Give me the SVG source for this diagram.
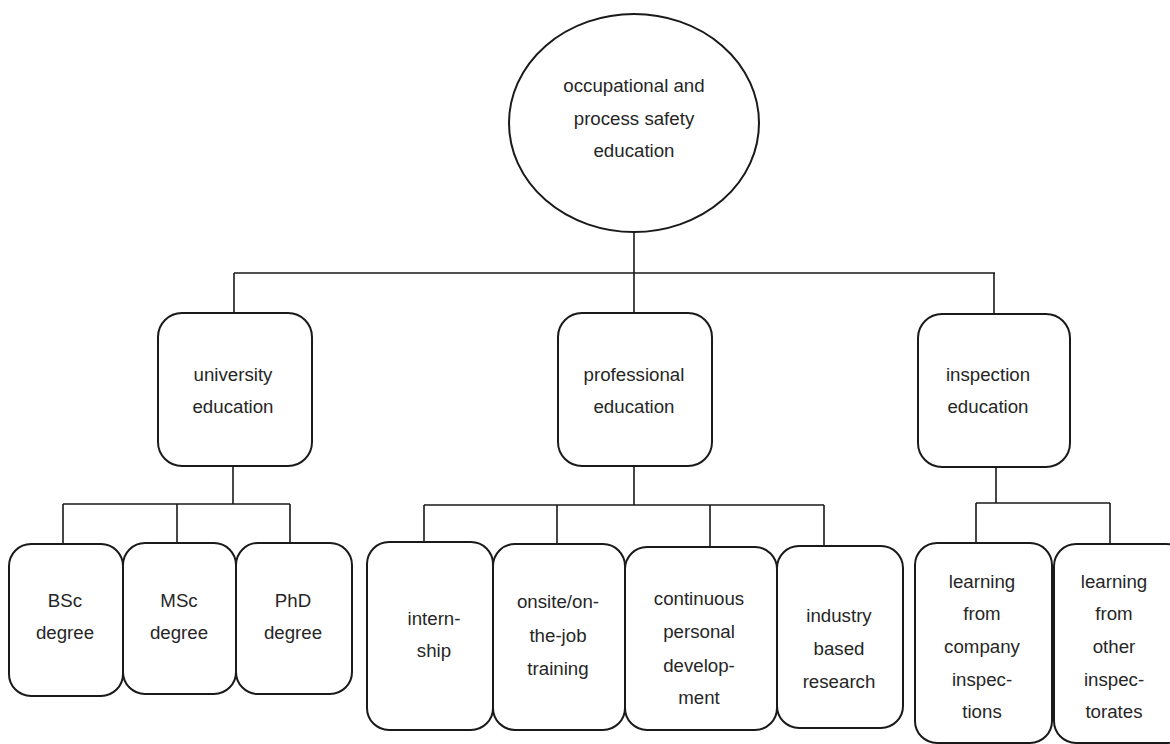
<svg xmlns="http://www.w3.org/2000/svg" width="1170" height="744" viewBox="0 0 1170 744">
<style>
.n{fill:#fff;stroke:#1a1a1a;stroke-width:2}
.c{fill:none;stroke:#1a1a1a;stroke-width:1.6}
text{font-family:"Liberation Sans",Arial,sans-serif;font-size:18.7px;fill:#262626;text-anchor:middle}
</style>
<rect width="1170" height="744" fill="#fff"/>
<g id="connectors">
<path class="c" d="M634 232V273M234 273H995M234 273V313M634 273V313M994 273V314"/>
<path class="c" d="M233 466V504M63 504H290M63 504V544M177 504V543M290 504V545"/>
<path class="c" d="M634 465V505M424 505H824M424 505V542M557 505V544M710 505V547M824 505V546"/>
<path class="c" d="M996 467V503M976 503H1110M976 503V543M1110 503V544"/>
</g>
<g id="root"><ellipse class="n" cx="634" cy="123" rx="125" ry="109"/>
<text x="634" y="92">occupational and</text><text x="634" y="125">process safety</text><text x="634" y="157">education</text></g>
<g id="university"><rect class="n" x="158" y="313" width="154" height="153" rx="24"/>
<text x="233" y="381">university</text><text x="233" y="413">education</text></g>
<g id="professional"><rect class="n" x="558" y="313" width="154" height="153" rx="24"/>
<text x="634" y="381">professional</text><text x="634" y="413">education</text></g>
<g id="inspection"><rect class="n" x="918" y="314" width="152" height="153" rx="24"/>
<text x="988" y="381">inspection</text><text x="988" y="413">education</text></g>
<g id="bsc"><rect class="n" x="9" y="544" width="114" height="152" rx="22"/>
<text x="65" y="607">BSc</text><text x="65" y="639">degree</text></g>
<g id="msc"><rect class="n" x="123" y="543" width="113" height="151" rx="22"/>
<text x="179" y="607">MSc</text><text x="179" y="639">degree</text></g>
<g id="phd"><rect class="n" x="236" y="543" width="116" height="151" rx="22"/>
<text x="293" y="607">PhD</text><text x="293" y="639">degree</text></g>
<g id="internship"><rect class="n" x="367" y="542" width="126" height="188" rx="22"/>
<text x="434" y="625">intern-</text><text x="434" y="657">ship</text></g>
<g id="onsite"><rect class="n" x="493" y="544" width="132" height="186" rx="22"/>
<text x="558" y="608">onsite/on-</text><text x="558" y="642">the-job</text><text x="558" y="675">training</text></g>
<g id="cpd"><rect class="n" x="625" y="547" width="152" height="183" rx="22"/>
<text x="699" y="605">continuous</text><text x="699" y="638">personal</text><text x="699" y="672">develop-</text><text x="699" y="704">ment</text></g>
<g id="industry"><rect class="n" x="777" y="546" width="126" height="182" rx="22"/>
<text x="839" y="622">industry</text><text x="839" y="655">based</text><text x="839" y="688">research</text></g>
<g id="company"><rect class="n" x="915" y="543" width="137" height="200" rx="22"/>
<text x="982" y="588">learning</text><text x="982" y="620">from</text><text x="982" y="653">company</text><text x="982" y="686">inspec-</text><text x="982" y="718">tions</text></g>
<g id="other"><rect class="n" x="1054" y="544" width="134" height="199" rx="22"/>
<text x="1114" y="588">learning</text><text x="1114" y="620">from</text><text x="1114" y="653">other</text><text x="1114" y="686">inspec-</text><text x="1114" y="718">torates</text></g>
</svg>
